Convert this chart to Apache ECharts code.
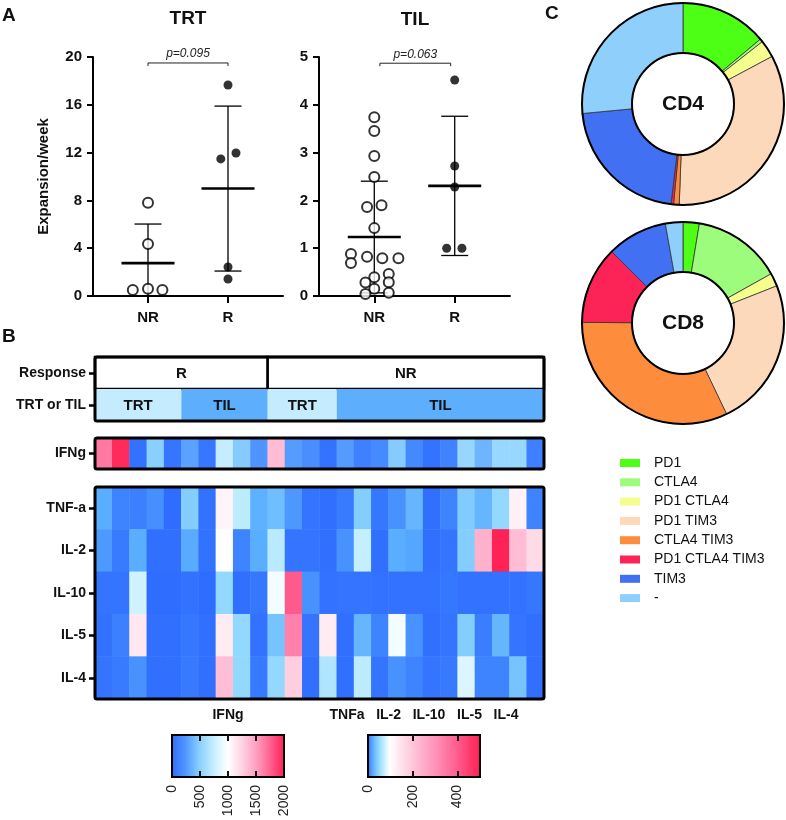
<!DOCTYPE html>
<html><head><meta charset="utf-8">
<script src="https://cdn.jsdelivr.net/npm/echarts@6/dist/echarts.min.js"></script>
<style>html,body{margin:0;padding:0;background:#fff}#c{width:786px;height:820px}</style>
</head><body><div id="c"></div>
<script>
const FONT = '"Liberation Sans", Arial, Helvetica, sans-serif';

// ---------- Panel A data ----------
const groupCats = ['NR', 'R'];           // x positions 1, 2
const trtNR = [[1,7.8],[1,4.35],[1,0.6],[0.81,0.5],[1.18,0.5]];
const trtR  = [[2,17.66],[1.91,11.47],[2.1,11.97],[2,2.43],[2,1.42]];
const tilNR = [[1,3.74],[1,3.45],[1,2.93],[1,2.49],[0.91,1.86],[1.09,1.9],[1,1.42],[0.71,0.88],[0.71,0.69],
               [0.91,0.82],[1.1,0.79],[1.3,0.79],[1.18,0.46],[1.18,0.29],[1,0.39],[0.89,0.28],[1,0.15],[1.18,0.07],[0.89,0.04]];
const tilR  = [[2,4.52],[2,2.72],[2,2.28],[1.9,1.0],[2.09,1.0]];
const pTRT = 'p=0.095';
const pTIL = 'p=0.063';

// ---------- Panel B data ----------
const responseByCol = ['R','R','R','R','R','R','R','R','R','R',
  'NR','NR','NR','NR','NR','NR','NR','NR','NR','NR','NR','NR','NR','NR','NR','NR'];
const typeByCol = ['TRT','TRT','TRT','TRT','TRT','TIL','TIL','TIL','TIL','TIL',
  'TRT','TRT','TRT','TRT','TIL','TIL','TIL','TIL','TIL','TIL','TIL','TIL','TIL','TIL','TIL','TIL'];
const annotRows = ['Response', 'TRT or TIL'];
const ifngRow = ['IFNg'];
const ifng = [1650,1950,30,500,50,300,60,750,480,250,1350,280,200,40,270,120,180,480,170,40,130,550,380,560,560,120];
const cytokineRows = ['TNF-a','IL-2','IL-10','IL-5','IL-4'];
const tnfa = [25,10,8,14,0,45,2,120,72,27,35,17,3,1,6,45,4,15,30,1,10,43,30,52,125,10];
const il2  = [18,6,25,1,1,24,2,100,10,25,70,3,3,1,15,75,1,25,22,1,3,45,240,490,220,165];
const il10 = [3,3,80,0,0,2,0,52,1,4,95,400,15,2,3,3,2,2,2,2,4,2,2,2,2,4];
const il5  = [2,8,140,1,1,4,1,135,52,2,38,330,3,135,1,30,10,95,15,1,3,45,7,30,3,1];
const il4  = [3,6,15,1,1,5,1,215,52,5,52,185,1,65,1,72,3,15,10,3,5,85,10,10,38,1];
const ifngTicks = [0, 500, 1000, 1500, 2000];
const cytoTicks = [0, 200, 400];
const cytoTitle = 'TNFa   IL-2   IL-10   IL-5   IL-4';

// ---------- Panel C data ----------
const markerNames = ['PD1','CTLA4','PD1 CTLA4','PD1 TIM3','CTLA4 TIM3','PD1 CTLA4 TIM3','TIM3','-'];
const cd4Pct = [13.9,0.5,2.8,33.4,0.9,0.4,21.6,26.5];
const cd8Pct = [2.6,14.3,2.1,23.9,32.2,12.4,9.7,2.8];

// ---------- styles ----------
const markerColors = ['#4cff14','#9dfc7c','#f6fd8f','#fdd9bb','#fd8d3c','#fc2356','#4170f2','#8ed0fb'];
const ifngStops = [[0,'#2f6dff'],[250,'#4f95ff'],[500,'#8ad0ff'],[800,'#d2f3ff'],[1000,'#ffffff'],
                   [1250,'#ffd2e2'],[1500,'#ff9ec0'],[1750,'#ff5f8e'],[2000,'#ff1d4f']];
const cytoStops = [[0,'#2f6dff'],[10,'#3f84ff'],[25,'#5aaeff'],[50,'#8fd6ff'],[75,'#c4efff'],[100,'#ffffff'],
                   [200,'#ffc6da'],[300,'#ff92b8'],[400,'#ff5a8c'],[500,'#ff1d4f']];
const typeColors = {TRT:'#c4ebfe', TIL:'#5daefd'};

function hex2rgb(h){return [parseInt(h.slice(1,3),16),parseInt(h.slice(3,5),16),parseInt(h.slice(5,7),16)];}
function colorAt(stops,v){
  for(let i=1;i<stops.length;i++){
    if(v<=stops[i][0]){
      const t=(v-stops[i-1][0])/(stops[i][0]-stops[i-1][0]);
      const a=hex2rgb(stops[i-1][1]), b=hex2rgb(stops[i][1]);
      return 'rgb('+a.map((x,k)=>Math.round(x+(b[k]-x)*t)).join(',')+')';
    }
  }
  return stops[stops.length-1][1];
}
function sampleColors(stops,max,n){const o=[];for(let i=0;i<n;i++)o.push(colorAt(stops,max*i/(n-1)));return o;}
function gradient(stops,max){return {type:'linear',x:0,y:0,x2:1,y2:0,colorStops:stops.map(s=>({offset:s[0]/max,color:s[1]}))};}
function stats(arr){
  const v=arr.map(d=>d[1]); const n=v.length;
  const m=v.reduce((a,b)=>a+b,0)/n;
  const sd=Math.sqrt(v.reduce((a,b)=>a+(b-m)*(b-m),0)/(n-1));
  return [m,sd];
}
function runs(arr){
  const out=[]; let s=0;
  for(let i=1;i<=arr.length;i++){ if(i===arr.length||arr[i]!==arr[s]){ out.push([s,i,arr[s]]); s=i; } }
  return out;
}

// ---------- layout ----------
const G = {
  trt:{left:93,top:57,width:190,height:239},
  til:{left:319,top:57,width:191,height:239},
  ann:{left:95,top:357,width:449,height:64},
  ifn:{left:95,top:438,width:449,height:31},
  hm:{left:95,top:487,width:449,height:212},
  cb1:{left:172,top:735,width:112,height:42},
  cb2:{left:368,top:735,width:112,height:42}
};

const errRender = (params, api) => {
  const x=api.value(0), m=api.value(1), sd=api.value(2);
  const pm=api.coord([x,m]);
  const lo=Math.max(m-sd,0);
  const pHi=api.coord([x,m+sd]), pLo=api.coord([x,lo]);
  const st={stroke:'#000',lineWidth:1.3};
  const ch=[
    {type:'line',shape:{x1:pm[0],y1:pHi[1],x2:pm[0],y2:pLo[1]},style:st},
    {type:'line',shape:{x1:pm[0]-13.5,y1:pHi[1],x2:pm[0]+13.5,y2:pHi[1]},style:st},
    {type:'line',shape:{x1:pm[0]-26.5,y1:pm[1],x2:pm[0]+26.5,y2:pm[1]},style:{stroke:'#000',lineWidth:2.6}}
  ];
  if(m-sd>=0) ch.push({type:'line',shape:{x1:pm[0]-13.5,y1:pLo[1],x2:pm[0]+13.5,y2:pLo[1]},style:st});
  return {type:'group',children:ch};
};
const bracketRender = (label) => (params, api) => {
  const a=api.coord([api.value(0),api.value(2)]), b=api.coord([api.value(1),api.value(2)]);
  return {type:'group',children:[
    {type:'polyline',shape:{points:[[a[0],a[1]+3],[a[0],a[1]],[b[0],b[1]],[b[0],b[1]+3]]},style:{stroke:'#222',lineWidth:1,fill:null}},
    {type:'text',style:{text:label,x:(a[0]+b[0])/2,y:a[1]-3,align:'center',verticalAlign:'bottom',
      fontStyle:'italic',fontSize:12,fontFamily:FONT,fill:'#222'}}
  ]};
};
const annRender = (params, api) => {
  const s=api.value(0), e=api.value(1), r=api.value(2);
  const p0=api.coord([s,r]), p1=api.coord([e,r]);
  const h=api.size([0,1])[1];
  const lab = params.dataIndex < respRuns.length ? respRuns[params.dataIndex][2] : typeRuns[params.dataIndex-respRuns.length][2];
  const isResp = r===0;
  return {type:'group',children:[
    {type:'rect',shape:{x:p0[0],y:p0[1]-h/2,width:p1[0]-p0[0],height:h},
      style:{fill:isResp?'#ffffff':typeColors[lab],stroke:isResp?'#000':null,lineWidth:2.5}},
    {type:'text',style:{text:lab,x:(p0[0]+p1[0])/2,y:p0[1]+1,align:'center',verticalAlign:'middle',
      fontSize:15,fontWeight:'bold',fontFamily:FONT,fill:'#111'}}
  ]};
};

const respRuns = runs(responseByCol);
const typeRuns = runs(typeByCol);
const annData = respRuns.map(r=>[r[0],r[1],0]).concat(typeRuns.map(r=>[r[0],r[1],1]));
const colIds = responseByCol.map((_,i)=>String(i));
const ifngData = ifng.map((v,i)=>[i,0,v]);
const cytoArrays = [tnfa,il2,il10,il5,il4];
const cytoData = [];
cytoArrays.forEach((arr,r)=>arr.forEach((v,i)=>cytoData.push([i,r,v])));

const sTrtNR=stats(trtNR), sTrtR=stats(trtR), sTilNR=stats(tilNR), sTilR=stats(tilR);

const axBase = {
  axisLine:{show:true,lineStyle:{color:'#000',width:2}},
  axisTick:{show:true,length:6,lineStyle:{color:'#000',width:2}},
  splitLine:{show:false}
};
const lbl = {color:'#111',fontWeight:'bold',fontSize:15,fontFamily:FONT};

function scatterX(gi){
  return Object.assign({},axBase,{gridIndex:gi,type:'value',min:0.3125,max:2.6875,
    axisTick:{show:true,length:7,lineStyle:{color:'#000',width:2},customValues:[1,2]},
    axisLabel:Object.assign({},lbl,{margin:14,customValues:[1,2],formatter:v=>groupCats[Math.round(v)-1]})});
}
function hiddenAxis(gi,type,extra){return Object.assign({gridIndex:gi,type:type,show:false},extra||{});}
function cbAxis(gi,max,ticks,pos,name){
  return {gridIndex:gi,type:'value',min:0,max:max,position:pos,
    axisLine:{show:false},splitLine:{show:false},
    axisTick:{show:true,inside:true,length:6,lineStyle:{color:'#111',width:2},customValues:ticks.slice(1).filter(t=>t<max)},
    axisLabel:pos==='bottom'?{show:true,rotate:90,margin:8,fontSize:14,color:'#222',fontFamily:FONT,customValues:ticks,formatter:v=>String(v)}:{show:false},
    name:name||'',nameLocation:'middle',nameGap:13,
    nameTextStyle:{fontWeight:'bold',fontSize:14,color:'#111',fontFamily:FONT}};
}
function catY(gi,cats){
  return {gridIndex:gi,type:'category',data:cats,inverse:true,
    axisLine:{show:false},
    axisTick:{show:true,alignWithLabel:true,length:6,lineStyle:{color:'#000',width:2.5}},
    axisLabel:{color:'#111',fontWeight:'bold',fontSize:14,fontFamily:FONT,margin:9},
    splitLine:{show:false}};
}

const option = {
  animation:false,
  backgroundColor:'#fff',
  grid:[
    Object.assign({},G.trt),Object.assign({},G.til),Object.assign({},G.ann),
    Object.assign({},G.ifn),Object.assign({},G.hm),
    Object.assign({show:true,borderColor:'#000',borderWidth:2,backgroundColor:gradient(ifngStops,2000)},G.cb1),
    Object.assign({show:true,borderColor:'#000',borderWidth:2,backgroundColor:gradient(cytoStops,500)},G.cb2)
  ],
  xAxis:[
    scatterX(0), scatterX(1),
    hiddenAxis(2,'value',{min:0,max:responseByCol.length}),
    hiddenAxis(3,'category',{data:colIds}),
    hiddenAxis(4,'category',{data:colIds}),
    cbAxis(5,2000,ifngTicks,'bottom'), cbAxis(5,2000,ifngTicks,'top','IFNg'),
    cbAxis(6,500,cytoTicks,'bottom'), cbAxis(6,500,cytoTicks,'top',cytoTitle)
  ],
  yAxis:[
    Object.assign({},axBase,{gridIndex:0,type:'value',min:0,max:20,interval:4,
      axisLabel:Object.assign({},lbl,{margin:11}),
      name:'Expansion/week',nameLocation:'middle',nameGap:42,
      nameTextStyle:{fontWeight:'bold',fontSize:15,color:'#111',fontFamily:FONT}}),
    Object.assign({},axBase,{gridIndex:1,type:'value',min:0,max:5,interval:1,
      axisLabel:Object.assign({},lbl,{margin:11})}),
    catY(2,annotRows), catY(3,ifngRow), catY(4,cytokineRows),
    hiddenAxis(5,'value',{min:0,max:1}), hiddenAxis(6,'value',{min:0,max:1})
  ],
  visualMap:[
    {type:'continuous',show:false,min:0,max:2000,seriesIndex:9,dimension:2,inRange:{color:sampleColors(ifngStops,2000,101)}},
    {type:'continuous',show:false,min:0,max:500,seriesIndex:10,dimension:2,inRange:{color:sampleColors(cytoStops,500,101)}}
  ],
  legend:{data:markerNames,orient:'vertical',left:615,top:451,itemWidth:20,itemHeight:8,itemGap:5.3,icon:'rect',
    itemStyle:{borderWidth:0},
    selectedMode:false,textStyle:{fontSize:14,fontFamily:FONT,color:'#111',lineHeight:14,padding:[0,0,0,9]}},
  graphic:[
    {type:'text',left:2,top:6,style:{text:'A',fontSize:19,fontWeight:'bold',fontFamily:FONT,fill:'#111'}},
    {type:'text',left:2,top:327,style:{text:'B',fontSize:19,fontWeight:'bold',fontFamily:FONT,fill:'#111'}},
    {type:'text',left:545,top:4,style:{text:'C',fontSize:19,fontWeight:'bold',fontFamily:FONT,fill:'#111'}},
    {type:'text',x:188,y:19,style:{text:'TRT',align:'center',verticalAlign:'middle',fontSize:19,fontWeight:'bold',fontFamily:FONT,fill:'#111'}},
    {type:'text',x:415,y:20,style:{text:'TIL',align:'center',verticalAlign:'middle',fontSize:19,fontWeight:'bold',fontFamily:FONT,fill:'#111'}},
    {type:'rect',z:100,shape:{x:G.ann.left,y:G.ann.top,width:G.ann.width,height:G.ann.height,r:2},style:{fill:null,stroke:'#000',lineWidth:3}},
    {type:'rect',z:100,shape:{x:G.ifn.left,y:G.ifn.top,width:G.ifn.width,height:G.ifn.height,r:2},style:{fill:null,stroke:'#000',lineWidth:3}},
    {type:'rect',z:100,shape:{x:G.hm.left,y:G.hm.top,width:G.hm.width,height:G.hm.height,r:2},style:{fill:null,stroke:'#000',lineWidth:3}}
  ],
  series:[
    {type:'scatter',xAxisIndex:0,yAxisIndex:0,data:trtNR,symbolSize:10,z:5,itemStyle:{color:'#fff',borderColor:'#000',borderWidth:2}},
    {type:'scatter',xAxisIndex:0,yAxisIndex:0,data:trtR,symbolSize:9,z:5,itemStyle:{color:'#000'}},
    {type:'custom',xAxisIndex:0,yAxisIndex:0,data:[[1,sTrtNR[0],sTrtNR[1]],[2,sTrtR[0],sTrtR[1]]],renderItem:errRender,z:3,silent:true},
    {type:'custom',xAxisIndex:0,yAxisIndex:0,data:[[1,2,19.5]],renderItem:bracketRender(pTRT),z:3,silent:true},
    {type:'scatter',xAxisIndex:1,yAxisIndex:1,data:tilNR,symbolSize:10,z:5,itemStyle:{color:'#fff',borderColor:'#000',borderWidth:2}},
    {type:'scatter',xAxisIndex:1,yAxisIndex:1,data:tilR,symbolSize:9,z:5,itemStyle:{color:'#000'}},
    {type:'custom',xAxisIndex:1,yAxisIndex:1,data:[[1,sTilNR[0],sTilNR[1]],[2,sTilR[0],sTilR[1]]],renderItem:errRender,z:3,silent:true},
    {type:'custom',xAxisIndex:1,yAxisIndex:1,data:[[1.07,1.95,4.87]],renderItem:bracketRender(pTIL),z:3,silent:true},
    {type:'custom',xAxisIndex:2,yAxisIndex:2,data:annData,renderItem:annRender,silent:true},
    {type:'heatmap',xAxisIndex:3,yAxisIndex:3,data:ifngData,itemStyle:{borderWidth:0},emphasis:{disabled:true}},
    {type:'heatmap',xAxisIndex:4,yAxisIndex:4,data:cytoData,itemStyle:{borderWidth:0},emphasis:{disabled:true}},
    {type:'pie',name:'CD4',center:[683,104],radius:[51,101],startAngle:90,clockwise:true,label:{show:false},labelLine:{show:false},
      emphasis:{disabled:true},silent:true,
      itemStyle:{borderColor:'#333',borderWidth:0.8},
      data:markerNames.map((n,i)=>({name:n,value:cd4Pct[i],itemStyle:{color:markerColors[i]}}))},
    {type:'pie',name:'CD8',center:[683,323],radius:[51,101],startAngle:90,clockwise:true,label:{show:false},labelLine:{show:false},
      emphasis:{disabled:true},silent:true,
      itemStyle:{borderColor:'#333',borderWidth:0.8},
      data:markerNames.map((n,i)=>({name:n,value:cd8Pct[i],itemStyle:{color:markerColors[i]}}))},
    {type:'pie',center:[683,104],radius:[51,101],silent:true,z:5,emphasis:{disabled:true},labelLine:{show:false},
      label:{show:true,position:'center',formatter:'CD4',fontSize:21,fontWeight:'bold',fontFamily:FONT,color:'#111'},
      itemStyle:{color:'rgba(0,0,0,0)',borderColor:'#000',borderWidth:2},data:[{name:'CD4 ring',value:1}]},
    {type:'pie',center:[683,323],radius:[51,101],silent:true,z:5,emphasis:{disabled:true},labelLine:{show:false},
      label:{show:true,position:'center',formatter:'CD8',fontSize:21,fontWeight:'bold',fontFamily:FONT,color:'#111'},
      itemStyle:{color:'rgba(0,0,0,0)',borderColor:'#000',borderWidth:2},data:[{name:'CD8 ring',value:1}]}
  ]
};
const chart = echarts.init(document.getElementById('c'), null, {renderer:'canvas'});
chart.setOption(option);
</script></body></html>
